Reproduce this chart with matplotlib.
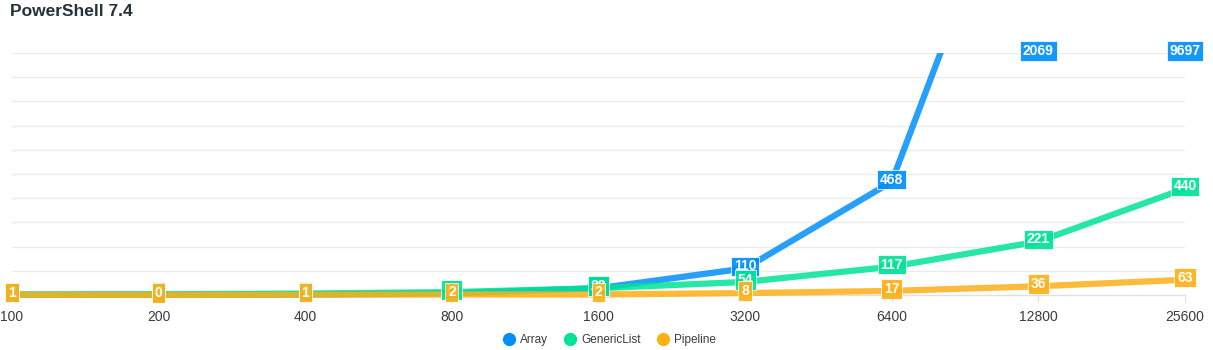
import matplotlib.pyplot as plt
from matplotlib.patches import Rectangle
from matplotlib.lines import Line2D

plt.rcParams['font.family'] = ['Liberation Sans', 'DejaVu Sans']

# item counts (categorical x axis)
sizes = ["100", "200", "400", "800", "1600", "3200", "6400", "12800", "25600"]

# milliseconds per series
arrayMs = [1, 1, 2, 7, 28, 110, 468, 2069, 9697]
genericListMs = [2, 3, 6, 12, 28, 54, 117, 221, 440]
pipelineMs = [1, 0, 1, 2, 2, 8, 17, 36, 63]

seriesNames = ["Array", "GenericList", "Pipeline"]
seriesColors = ["#008FFB", "#00E396", "#FEB019"]
yMax = 1000

fig = plt.figure(figsize=(12.13, 3.5), dpi=100)
ax = fig.add_axes([12 / 1213, 55 / 350, 1173 / 1213, 242 / 350])

xs = list(range(len(sizes)))
clipRect = Rectangle((0, -0.2), 1, 1.2, transform=ax.transAxes, visible=False)
ax.add_patch(clipRect)

allSeries = [arrayMs, genericListMs, pipelineMs]
for vals, color in zip(allSeries, seriesColors):
    line, = ax.plot(xs, vals, color=color, lw=4.5, alpha=0.85,
                    solid_capstyle='butt', zorder=3)
    line.set_clip_path(clipRect)

# data labels on top of all lines
for vals, color in zip(allSeries, seriesColors):
    for x, v in zip(xs, vals):
        ax.annotate(str(v), (x, min(v, yMax)), xytext=(0, 1.5),
                    textcoords='offset points', ha='center', va='center',
                    color='white', fontsize=10, fontweight='bold',
                    annotation_clip=False, zorder=5,
                    bbox=dict(boxstyle='square,pad=0.2', fc=color,
                              ec='white', lw=0.6, alpha=0.92))

ax.set_xlim(0, len(sizes) - 1)
ax.set_ylim(0, yMax)
ax.set_yticks(range(100, yMax + 1, 100))
ax.set_yticklabels([])
ax.tick_params(axis='y', length=0)
ax.grid(axis='y', color='#ececec', lw=1)
ax.set_axisbelow(True)

ax.set_xticks(xs)
ax.set_xticklabels(sizes, color='#373d3f', fontsize=10)
ax.tick_params(axis='x', length=5, color='#e0e0e0', pad=6)

for side in ['top', 'left', 'right']:
    ax.spines[side].set_visible(False)
ax.spines['bottom'].set_color('#e0e0e0')
ax.spines['bottom'].set_linewidth(1)

fig.text(10 / 1213, 1 - 12 / 350, "PowerShell 7.4", fontsize=12.5,
         fontweight='bold', color='#263238', va='center', ha='left')

handles = [Line2D([], [], ls='none', marker='o', markersize=8.5,
                  markerfacecolor=c, markeredgecolor=c) for c in seriesColors]
fig.legend(handles, seriesNames, loc='center', bbox_to_anchor=(0.5, 1 - 340 / 350),
           ncol=3, frameon=False, fontsize=8.5, handletextpad=-0.1,
           columnspacing=0.9, labelcolor='#373d3f')

fig.savefig("out.png", dpi=100)
